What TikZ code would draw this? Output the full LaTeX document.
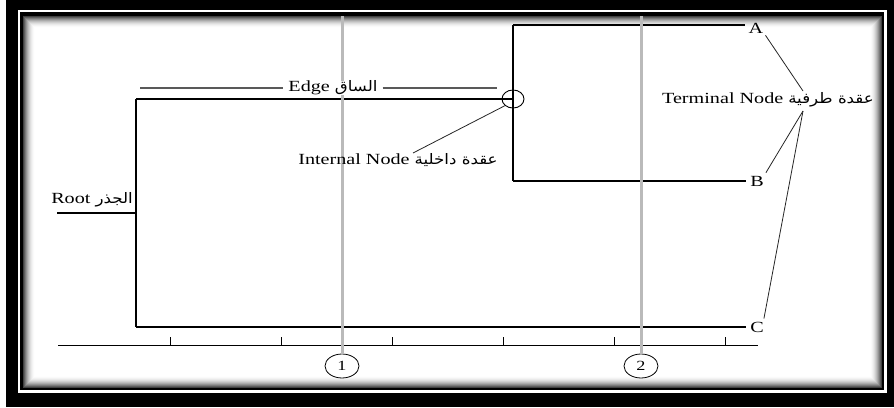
\documentclass[tikz,border=0pt]{standalone}
\usepackage{fontspec}
\setmainfont[FakeStretch=1.3]{Liberation Serif}
\newfontfamily\arabicfont[Script=Arabic,FakeStretch=1.15]{DejaVu Sans}
\TeXXeTstate=1
\usetikzlibrary{shapes.geometric}
\newcommand{\artext}[1]{{\arabicfont\fontsize{14.5}{16}\selectfont\beginR #1\endR}}
\tikzset{
  branch/.style={line width=1.1pt, black},
  pointer/.style={line width=0.8pt, black!85},
  edgeline/.style={line width=1.2pt, black!65},
  guide/.style={line width=3pt, black!27},
  lbl/.style={inner sep=0pt, font=\fontsize{15.5}{17}\selectfont},
  tip/.style={inner sep=0pt, font=\fontsize{15.5}{17}\selectfont},
  marker/.style={draw, ellipse, line width=0.8pt, minimum width=34pt, minimum height=24pt, inner sep=0pt, fill=white, font=\fontsize{14}{15}\selectfont},
}
\begin{document}
\begin{tikzpicture}[x=1pt, y=-1pt]
\useasboundingbox (0,0) rectangle (894,407);
% outer frame
\fill[black] (0,0) rectangle (894,407);
\fill[white] (0,0) rectangle (6,407);
\draw[white, line width=2.6pt] (19,11) rectangle (885.5,391.5);
% inner panel with soft inner shadow
\foreach \i in {0,...,12} {
  \pgfmathsetmacro\g{75*(1-\i/12)*(1-\i/12)}
  \fill[black!\g] (23+\i,16+\i) rectangle (882-\i,388-\i);
}
\fill[white] (35,28) rectangle (870,376);

% axis with ticks
\coordinate (ax0) at (58,345);
\coordinate (ax1) at (758,345);
\draw[line width=1pt] (ax0) -- (ax1);
\foreach \x in {170,281,392,503,614,725} \draw[line width=1pt] (\x,345) -- (\x,337);

% cutting guides
\node[marker] (c1) at (342,366) {1};
\node[marker] (c2) at (641,366) {2};
\coordinate (g1) at (342,16);
\coordinate (g2) at (641,16);

% tree
\coordinate (rootstart) at (57,213);
\coordinate (rootjoin) at (136,213);
\coordinate (rtop) at (136,99);
\coordinate (rbot) at (136,327);
\coordinate (itop) at (513,25);
\coordinate (ibot) at (513,181);
\node[draw, ellipse, line width=0.9pt, minimum width=22pt, minimum height=18pt, inner sep=0pt] (inode) at (513,99) {};
\node[tip] (A) at (756,28) {A};
\node[tip] (B) at (757,181) {B};
\node[tip] (C) at (757,327) {C};

\draw[branch] (rootstart) -- (rootjoin);
\draw[branch] (rtop) -- (rbot);
\draw[branch] (rtop) -- (inode.center);
\draw[branch] (itop) -- (ibot);
\draw[branch] (itop) -- ([xshift=-4pt]itop -| A.west);
\draw[branch] (ibot) -- ([xshift=-4pt]ibot -| B.west);
\draw[branch] (rbot) -- ([xshift=-4pt]rbot -| C.west);

% guide lines over the tree
\draw[guide] (g1) -- (c1.north);
\draw[guide] (g2) -- (c2.north);

% labels
\node[lbl, anchor=south east] (rootlbl) at (133,207) {Root \artext{الجذر}};
\node[lbl, fill=white, inner xsep=5pt] (edge) at (333,88) {Edge \artext{الساق}};
\coordinate (e0) at (140,88);
\coordinate (e1) at (497,88);
\draw[edgeline] (e0) -- (edge.west);
\draw[edgeline] (edge.east) -- (e1);

\node[lbl] (ilbl) at (398,160) {Internal Node \artext{عقدة داخلية}};
\coordinate (ilink) at (413,153);
\draw[pointer] (inode.south west) -- (ilink);

\node[lbl] (term) at (768,100) {Terminal Node \artext{عقدة طرفية}};
\coordinate (ttop) at (803,91);
\coordinate (tbot) at (803,111);
\draw[pointer] ([shift={(2pt,-2pt)}]A.south east) -- (ttop);
\draw[pointer] (tbot) -- ([shift={(2pt,3pt)}]B.north east);
\draw[pointer] (tbot) -- ([shift={(0pt,3pt)}]C.north east);
\end{tikzpicture}
\end{document}
